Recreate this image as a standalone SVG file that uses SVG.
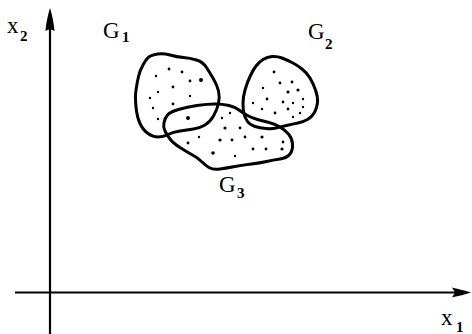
<svg xmlns="http://www.w3.org/2000/svg" width="472" height="334" viewBox="0 0 472 334">
<style>
.ax{stroke:#000;stroke-width:2.2;fill:none}
.ah{fill:#000;stroke:none}
.blob{fill:none;stroke:#000;stroke-width:3;stroke-linejoin:round}
.d{fill:#000}
.t{font-family:"Liberation Serif","Times New Roman",serif;font-size:23px;fill:#000}
.s{font-family:"Liberation Serif","Times New Roman",serif;font-size:15px;font-weight:bold;fill:#000}
</style>
<rect width="472" height="334" fill="#fff"/>
<g id="axes">
<line class="ax" x1="50" y1="26" x2="50" y2="334"/>
<line class="ax" x1="15" y1="292.5" x2="456" y2="292.5"/>
<path class="ah" d="M50,8 C52,14 54,24 54.5,31 L50,29 L45.5,31 C46,24 48,14 50,8 Z"/>
<path class="ah" d="M471,292.5 C465,294.5 456,296.5 452,297.5 L455,292.5 L452,287.5 C456,288.5 465,290.5 471,292.5 Z"/>
</g>
<g id="label-x2"><text class="t" x="7" y="33">x</text><text class="s" x="20" y="41">2</text></g>
<g id="label-x1"><text class="t" x="441" y="325">x</text><text class="s" x="456" y="332">1</text></g>
<g id="G1">
<path class="blob" d="M157.5,54 Q163,53 170,55 Q177,57 183.5,57.5 Q190,58 196.5,60 Q203,62 206.5,67.5 Q210,73 213.5,79 Q217,85 218.5,91 Q220,97 218.5,103.5 Q217,110 213.5,116 Q210,122 205,125 Q200,128 193.5,129 Q187,130 180,131 Q173,132 168,134.5 Q163,137 158,137 Q153,137 148,133.5 Q143,130 140,123.5 Q137,117 136,107 Q135,97 136,90 Q137,83 138.5,76.5 Q140,70 143.5,64 Q147,58 149.5,56.5 Q152,55 157.5,54 Z"/>
<g class="d">
<circle cx="169" cy="69" r="1.4"/><circle cx="182" cy="72" r="1.4"/><circle cx="156" cy="76" r="1.2"/><circle cx="190" cy="81" r="1.4"/><circle cx="201" cy="80" r="2"/><circle cx="173" cy="87" r="1.4"/><circle cx="158" cy="92" r="1.2"/><circle cx="150" cy="98" r="1.2"/><circle cx="190" cy="96" r="1.2"/><circle cx="173" cy="104" r="1.4"/><circle cx="153" cy="108" r="1.2"/><circle cx="158" cy="119" r="1.2"/><circle cx="188" cy="118" r="2"/>
</g>
<text class="t" x="103" y="38">G</text><text class="s" x="122" y="42">1</text>
</g>
<g id="G2">
<path class="blob" d="M272,56.5 Q277,56 282,58 Q287,60 292,62.5 Q297,65 302,69 Q307,73 310,78 Q313,83 315.5,90 Q318,97 317.5,102.5 Q317,108 314.5,112.5 Q312,117 307.5,119.5 Q303,122 298,123 Q293,124 286.5,125.5 Q280,127 276,128 Q272,129 266,128.5 Q260,128 255,126.5 Q250,125 247.5,121.5 Q245,118 244,114 Q243,110 243,103.5 Q243,97 245,90 Q247,83 250,76.5 Q253,70 256,66 Q259,62 263,59.5 Q267,57 272,56.5 Z"/>
<g class="d">
<circle cx="274" cy="72" r="1.4"/><circle cx="280" cy="83" r="1.4"/><circle cx="292" cy="82" r="1.4"/><circle cx="263" cy="88" r="1.2"/><circle cx="288" cy="92" r="1.6"/><circle cx="298" cy="90" r="1.6"/><circle cx="267" cy="99" r="1.4"/><circle cx="253" cy="103" r="1.2"/><circle cx="283" cy="102" r="1.4"/><circle cx="293" cy="103" r="1.2"/><circle cx="303" cy="99" r="1.2"/><circle cx="262" cy="109" r="1.2"/><circle cx="288" cy="109" r="1.4"/><circle cx="275" cy="113" r="1.4"/><circle cx="303" cy="107" r="1.2"/><circle cx="293" cy="117" r="1.2"/><circle cx="300" cy="113" r="1.2"/>
</g>
<text class="t" x="308" y="39">G</text><text class="s" x="325" y="49">2</text>
</g>
<g id="G3">
<path class="blob" d="M178.5,109.5 Q187,107 197,105.5 Q207,104 215,104 Q223,104 229,105.5 Q235,107 239,110 Q243,113 247.5,115.5 Q252,118 257.5,119.5 Q263,121 269,122.5 Q275,124 280,127 Q285,130 288.5,134 Q292,138 292.5,144 Q293,150 290,154 Q287,158 280,159 Q273,160 266.5,161.5 Q260,163 251.5,164 Q243,165 235,166.5 Q227,168 220,169 Q213,170 209,167.5 Q205,165 201.5,161.5 Q198,158 192.5,155 Q187,152 180,147.5 Q173,143 170,139 Q167,135 165,131 Q163,127 164,122.5 Q165,118 167.5,115 Q170,112 178.5,109.5 Z"/>
<g class="d">
<circle cx="222" cy="118" r="1.2"/><circle cx="230" cy="113" r="1.2"/><circle cx="225" cy="128" r="1.6"/><circle cx="240" cy="128" r="1.4"/><circle cx="199" cy="137" r="1.2"/><circle cx="220" cy="140" r="1.6"/><circle cx="232" cy="140" r="1.4"/><circle cx="245" cy="137" r="1.4"/><circle cx="262" cy="137" r="1.6"/><circle cx="283" cy="142" r="1.4"/><circle cx="188" cy="143" r="1.4"/><circle cx="213" cy="153" r="1.8"/><circle cx="235" cy="156" r="1.2"/><circle cx="253" cy="149" r="1.4"/><circle cx="266" cy="149" r="1.4"/><circle cx="282" cy="149" r="1.6"/>
</g>
<text class="t" x="219" y="192">G</text><text class="s" x="237" y="198">3</text>
</g>
</svg>
